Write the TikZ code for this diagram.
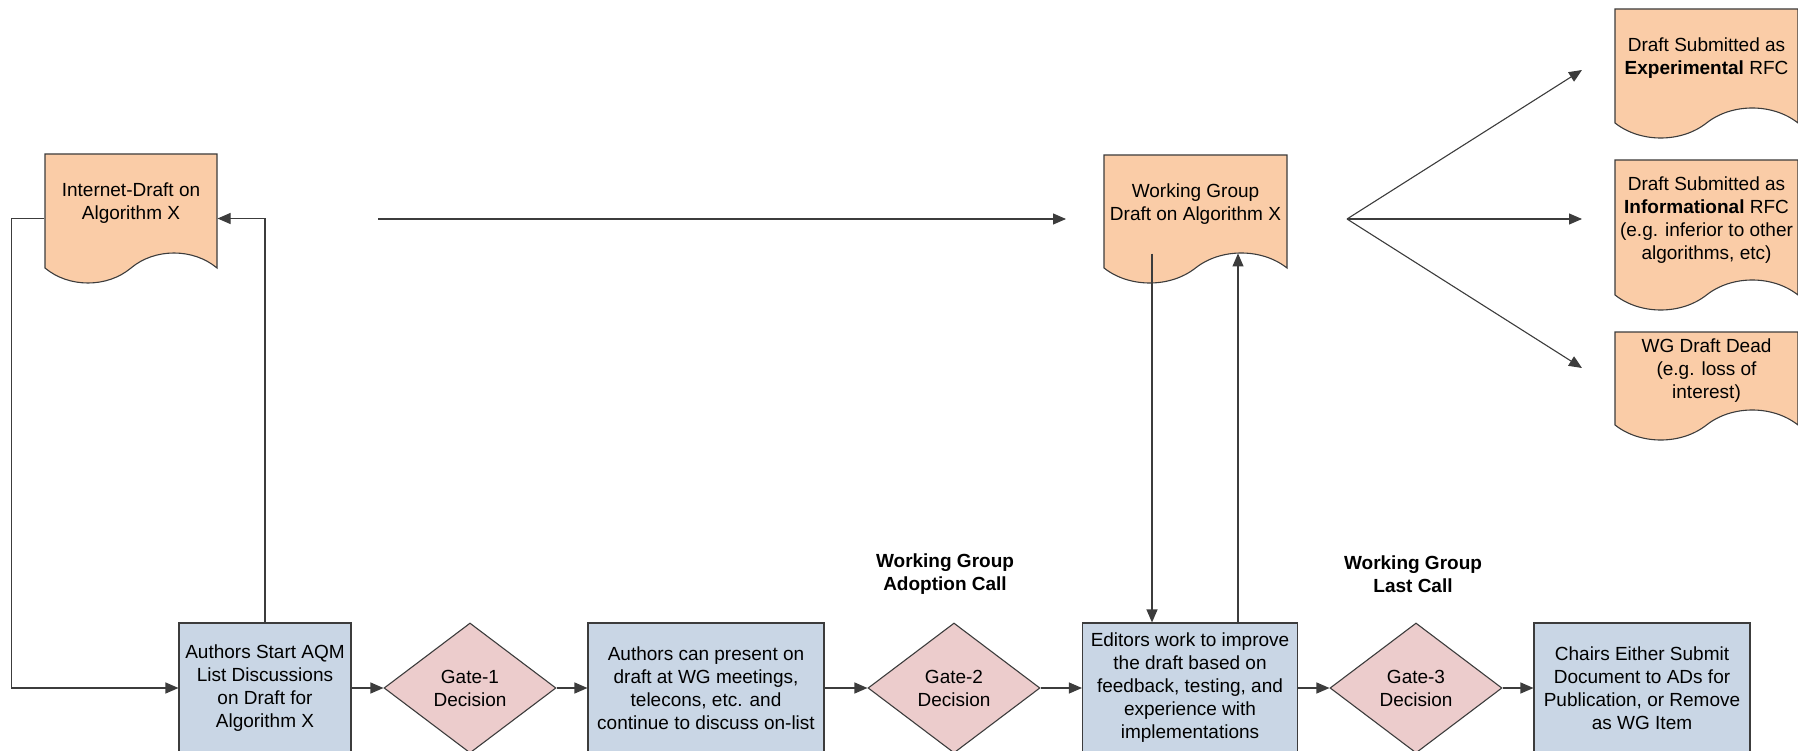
\documentclass[tikz,border=0pt]{standalone}
\usepackage{fontspec}
\setmainfont{Liberation Sans}
\usetikzlibrary{shapes.geometric,shapes.symbols,arrows.meta}
\definecolor{docorange}{RGB}{250,204,167}
\definecolor{stepblue}{RGB}{201,214,229}
\definecolor{gatepink}{RGB}{236,204,204}
\definecolor{linegray}{RGB}{60,60,60}
\begin{document}
\begin{tikzpicture}[x=1pt,y=-1pt,line width=1.1pt,
      pfeil/.style={-{Triangle[length=13pt,width=11pt]}, draw=linegray},
      mytext/.style={align=center,font=\fontsize{19}{23}\selectfont},
      docbox/.style={mytext,tape,tape bend top=none,tape bend height=30pt,draw=linegray,fill=docorange,
        inner xsep=2pt,minimum width=183pt},
      stepbox/.style={mytext,rectangle,draw=linegray,fill=stepblue,inner xsep=2pt,minimum height=130pt},
      gatebox/.style={mytext,diamond,draw=linegray,fill=gatepink,inner sep=0pt,minimum width=172pt,minimum height=130pt}]
    \useasboundingbox (0,0) rectangle (1798,751);
    \clip (0,0) rectangle (1798,751);
    % documents
    \node[docbox,minimum width=172pt,minimum height=129pt] at (131,203.5) (ID) {Internet-Draft on\\Algorithm X};
    \node[docbox,minimum height=128pt] at (1195.5,204) (WG) {Working Group\\Draft on Algorithm X};
    \node[docbox,minimum height=129pt] at (1706.5,58.5) (EX) {Draft Submitted as\\\textbf{Experimental} RFC};
    \node[docbox,minimum height=150pt] at (1706.5,220) (IN) {Draft Submitted as\\\textbf{Informational} RFC\\(e.g. inferior to other\\algorithms, etc)};
    \node[docbox,minimum height=108pt] at (1706.5,371) (DD) {WG Draft Dead\\(e.g. loss of\\interest)};
    % steps and gates
    \node[stepbox,minimum width=172pt] at (265,688) (AS) {Authors Start AQM\\List Discussions\\on Draft for\\Algorithm X};
    \node[gatebox] at (470,688) (G1) {Gate-1\\Decision};
    \node[stepbox,minimum width=236pt] at (706,688) (AP) {Authors can present on\\draft at WG meetings,\\telecons, etc. and\\continue to discuss on-list};
    \node[gatebox] at (954,688) (G2) {Gate-2\\Decision};
    \node[stepbox,minimum width=215pt] at (1190,688) (ED) {Editors work to improve\\the draft based on\\feedback, testing, and\\experience with\\implementations};
    \node[gatebox] at (1416,688) (G3) {Gate-3\\Decision};
    \node[stepbox,minimum width=216pt] at (1642,688) (CH) {Chairs Either Submit\\Document to ADs for\\Publication, or Remove\\as WG Item};
    \node[mytext,font=\fontsize{19}{23}\selectfont\bfseries] at (945,574) (L2) {Working Group\\Adoption Call};
    \node[mytext,font=\fontsize{19}{23}\selectfont\bfseries] at (1413,574) (L3) {Working Group\\Last Call};
    % connectors
    \draw[pfeil] ([yshift=-15pt]ID.west) -- ++(-33,0) |- (AS.west);
    \draw[pfeil] (AS.north) |- ([yshift=-15pt]ID.east);
    \coordinate (t1) at (378,219);
    \coordinate (t2) at (1066,219);
    \draw[pfeil] (t1) -- (t2);
    \draw[pfeil] (AS) -- (G1);
    \draw[pfeil] (G1) -- (AP);
    \draw[pfeil] (AP) -- (G2);
    \draw[pfeil] (G2) -- (ED);
    \draw[pfeil] (ED) -- (G3);
    \draw[pfeil] (G3) -- (CH);
    \draw[pfeil] ([xshift=-43.5pt]WG.south) -- ([xshift=-43.5pt]WG.south |- ED.north);
    \draw[pfeil] ([xshift=48pt]ED.north) -- ++(0,-369);
    \coordinate (fan) at (1347,219);
    \coordinate (r1) at (1582,70);
    \coordinate (r2) at (1582,219);
    \coordinate (r3) at (1582,368);
    \draw[pfeil] (fan) -- (r1);
    \draw[pfeil] (fan) -- (r2);
    \draw[pfeil] (fan) -- (r3);
  \end{tikzpicture}
\end{document}
